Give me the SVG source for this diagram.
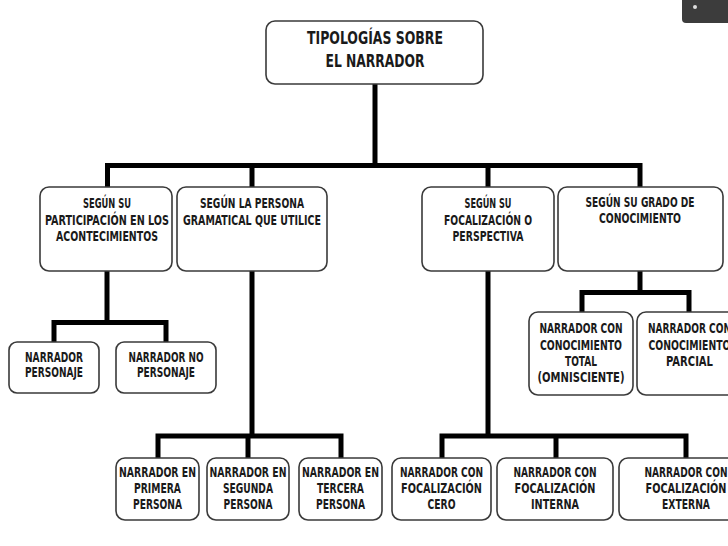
<svg xmlns="http://www.w3.org/2000/svg" width="728" height="546" viewBox="0 0 728 546">
<style>
.box{fill:#fff;stroke:#3a3a3a;stroke-width:1.6}
.t{font-family:"Liberation Sans Narrow","DejaVu Sans Condensed","Liberation Sans",sans-serif;font-weight:bold;font-size:13.5px;fill:#1a1a1a;text-anchor:middle}
.tt{font-size:17px}
.c{fill:none;stroke:#000;stroke-width:5;stroke-linejoin:miter;stroke-linecap:butt}
</style>
<rect width="728" height="546" fill="#fff"/>
<g id="connectors">
<path class="c" d="M375 84V165.5"/>
<path class="c" d="M107.5 187V165.5H640V187"/>
<path class="c" d="M252 165.5V187M488 165.5V187"/>
<path class="c" d="M107 271V322.5"/>
<path class="c" d="M54 343V322.5H166V343"/>
<path class="c" d="M252 271V436"/>
<path class="c" d="M158 458V436H341V458M248 436V458"/>
<path class="c" d="M488 271V436"/>
<path class="c" d="M442 458V436H686V458M556 436V458"/>
<path class="c" d="M640 271V292.5"/>
<path class="c" d="M582 313V292.5H689V313"/>
</g>
<g id="title">
<rect class="box" x="266" y="21" width="217" height="63" rx="9"/>
<text class="t tt" x="375" y="44" textLength="136" lengthAdjust="spacingAndGlyphs">TIPOLOGÍAS SOBRE</text>
<text class="t tt" x="375" y="67" textLength="99" lengthAdjust="spacingAndGlyphs">EL NARRADOR</text>
</g>
<g id="participacion">
<rect class="box" x="40" y="187" width="132" height="84" rx="9"/>
<text class="t" x="107" y="208" textLength="48" lengthAdjust="spacingAndGlyphs">SEGÚN SU</text>
<text class="t" x="107" y="225" textLength="124" lengthAdjust="spacingAndGlyphs">PARTICIPACIÓN EN LOS</text>
<text class="t" x="107" y="241" textLength="102" lengthAdjust="spacingAndGlyphs">ACONTECIMIENTOS</text>
</g>
<g id="persona">
<rect class="box" x="177" y="187" width="150" height="84" rx="9"/>
<text class="t" x="252" y="208" textLength="104" lengthAdjust="spacingAndGlyphs">SEGÚN LA PERSONA</text>
<text class="t" x="252" y="225" textLength="138" lengthAdjust="spacingAndGlyphs">GRAMATICAL QUE UTILICE</text>
</g>
<g id="focalizacion">
<rect class="box" x="422" y="187" width="132" height="84" rx="9"/>
<text class="t" x="488" y="208" textLength="47" lengthAdjust="spacingAndGlyphs">SEGÚN SU</text>
<text class="t" x="488" y="225" textLength="88" lengthAdjust="spacingAndGlyphs">FOCALIZACIÓN O</text>
<text class="t" x="488" y="241" textLength="71" lengthAdjust="spacingAndGlyphs">PERSPECTIVA</text>
</g>
<g id="grado">
<rect class="box" x="558" y="187" width="165" height="84" rx="9"/>
<text class="t" x="640" y="207" textLength="109" lengthAdjust="spacingAndGlyphs">SEGÚN SU GRADO DE</text>
<text class="t" x="640" y="223" textLength="82" lengthAdjust="spacingAndGlyphs">CONOCIMIENTO</text>
</g>
<g id="personaje">
<rect class="box" x="9" y="342" width="90" height="51" rx="8"/>
<text class="t" x="54" y="362" textLength="58" lengthAdjust="spacingAndGlyphs">NARRADOR</text>
<text class="t" x="54" y="377" textLength="58" lengthAdjust="spacingAndGlyphs">PERSONAJE</text>
</g>
<g id="no-personaje">
<rect class="box" x="116" y="342" width="100" height="51" rx="8"/>
<text class="t" x="166" y="362" textLength="75" lengthAdjust="spacingAndGlyphs">NARRADOR NO</text>
<text class="t" x="166" y="377" textLength="58" lengthAdjust="spacingAndGlyphs">PERSONAJE</text>
</g>
<g id="total">
<rect class="box" x="529" y="312" width="104" height="83" rx="9"/>
<text class="t" x="581" y="333" textLength="83" lengthAdjust="spacingAndGlyphs">NARRADOR CON</text>
<text class="t" x="581" y="350" textLength="82" lengthAdjust="spacingAndGlyphs">CONOCIMIENTO</text>
<text class="t" x="581" y="366" textLength="32" lengthAdjust="spacingAndGlyphs">TOTAL</text>
<text class="t" x="581" y="382" textLength="87" lengthAdjust="spacingAndGlyphs">(OMNISCIENTE)</text>
</g>
<g id="parcial">
<rect class="box" x="637" y="312" width="105" height="83" rx="9"/>
<text class="t" x="689.5" y="333" textLength="83" lengthAdjust="spacingAndGlyphs">NARRADOR CON</text>
<text class="t" x="689.5" y="350" textLength="82" lengthAdjust="spacingAndGlyphs">CONOCIMIENTO</text>
<text class="t" x="689.5" y="366" textLength="47" lengthAdjust="spacingAndGlyphs">PARCIAL</text>
</g>
<g id="primera">
<rect class="box" x="116" y="458" width="83" height="62" rx="9"/>
<text class="t" x="157.5" y="477" textLength="77" lengthAdjust="spacingAndGlyphs">NARRADOR EN</text>
<text class="t" x="157.5" y="493" textLength="47" lengthAdjust="spacingAndGlyphs">PRIMERA</text>
<text class="t" x="157.5" y="509" textLength="49" lengthAdjust="spacingAndGlyphs">PERSONA</text>
</g>
<g id="segunda">
<rect class="box" x="207" y="458" width="82" height="62" rx="9"/>
<text class="t" x="248" y="477" textLength="77" lengthAdjust="spacingAndGlyphs">NARRADOR EN</text>
<text class="t" x="248" y="493" textLength="50" lengthAdjust="spacingAndGlyphs">SEGUNDA</text>
<text class="t" x="248" y="509" textLength="49" lengthAdjust="spacingAndGlyphs">PERSONA</text>
</g>
<g id="tercera">
<rect class="box" x="299" y="458" width="83" height="62" rx="9"/>
<text class="t" x="340.5" y="477" textLength="77" lengthAdjust="spacingAndGlyphs">NARRADOR EN</text>
<text class="t" x="340.5" y="493" textLength="47" lengthAdjust="spacingAndGlyphs">TERCERA</text>
<text class="t" x="340.5" y="509" textLength="49" lengthAdjust="spacingAndGlyphs">PERSONA</text>
</g>
<g id="cero">
<rect class="box" x="392" y="458" width="99" height="62" rx="9"/>
<text class="t" x="441.5" y="477" textLength="83" lengthAdjust="spacingAndGlyphs">NARRADOR CON</text>
<text class="t" x="441.5" y="493" textLength="81" lengthAdjust="spacingAndGlyphs">FOCALIZACIÓN</text>
<text class="t" x="441.5" y="509" textLength="28" lengthAdjust="spacingAndGlyphs">CERO</text>
</g>
<g id="interna">
<rect class="box" x="497" y="458" width="116" height="62" rx="9"/>
<text class="t" x="555" y="477" textLength="83" lengthAdjust="spacingAndGlyphs">NARRADOR CON</text>
<text class="t" x="555" y="493" textLength="81" lengthAdjust="spacingAndGlyphs">FOCALIZACIÓN</text>
<text class="t" x="555" y="509" textLength="48" lengthAdjust="spacingAndGlyphs">INTERNA</text>
</g>
<g id="externa">
<rect class="box" x="619" y="458" width="134" height="62" rx="9"/>
<text class="t" x="686" y="477" textLength="83" lengthAdjust="spacingAndGlyphs">NARRADOR CON</text>
<text class="t" x="686" y="493" textLength="81" lengthAdjust="spacingAndGlyphs">FOCALIZACIÓN</text>
<text class="t" x="686" y="509" textLength="48" lengthAdjust="spacingAndGlyphs">EXTERNA</text>
</g>
<g id="overlay">
<rect x="682" y="-10" width="60" height="33" rx="4" fill="#3c3c3c"/>
<circle cx="695" cy="7" r="2" fill="#ddd"/>
</g>
</svg>
